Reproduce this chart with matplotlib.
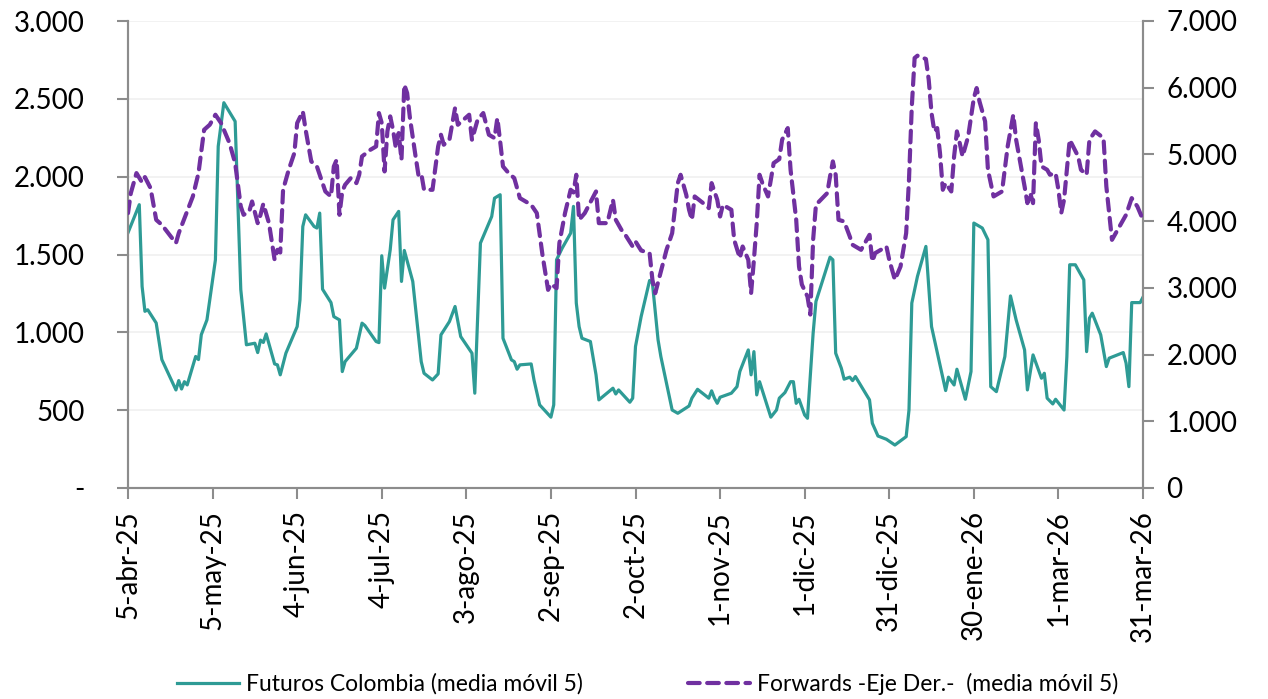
import numpy as np
import pandas as pd
import matplotlib
matplotlib.use("Agg")
import matplotlib.pyplot as plt
from matplotlib.ticker import FuncFormatter

plt.rcParams['font.family'] = ['Lato', 'DejaVu Sans']

start = pd.Timestamp('2025-04-05')

# Futuros Colombia (media móvil 5) - left axis; day offsets from start
fut_days = [0, 4, 5, 6, 7, 10, 12, 17, 18, 19, 20, 21, 24, 25, 26, 28, 31, 32, 34, 38,
            40, 42, 45, 46, 47, 48, 49, 52, 53, 54, 56, 60, 61, 62, 63, 66, 67, 68, 69, 72,
            73, 75, 76, 77, 81, 83, 84, 88, 89, 90, 91, 93, 94, 96, 97, 98, 101, 104, 105, 108,
            110, 111, 114, 116, 118, 122, 123, 125, 129, 130, 132, 133, 136, 137, 138, 139, 143, 144, 146, 150,
            151, 152, 154, 157, 158, 159, 160, 161, 164, 166, 167, 172, 173, 174, 178, 179, 180, 182, 185, 186,
            188, 189, 193, 195, 199, 200, 202, 206, 207, 208, 209, 210, 214, 216, 217, 220, 221, 222, 223, 224,
            228, 230, 231, 233, 235, 236, 237, 238, 240, 241, 243, 244, 249, 250, 251, 253, 254, 256, 257, 258,
            263, 264, 266, 269, 272, 276, 277, 278, 280, 283, 285, 290, 291, 293, 294, 297, 299, 300, 303, 305,
            306, 308, 311, 313, 315, 318, 319, 321, 324, 325, 326, 328, 329, 332, 333, 334, 336, 339, 340, 341,
            342, 345, 347, 348, 353, 354, 355, 356, 359, 360]
fut_vals = [1640, 1820, 1295, 1135, 1145, 1060, 825, 630, 690, 636, 683, 662, 845, 825, 985, 1080, 1465, 2195, 2475, 2355,
            1275, 920, 930, 870, 950, 935, 990, 797, 791, 727, 866, 1037, 1209, 1680, 1755, 1680, 1670, 1766, 1277, 1191,
            1101, 1080, 748, 812, 898, 1059, 1044, 941, 934, 1492, 1284, 1530, 1723, 1777, 1327, 1526, 1327, 812, 737, 694,
            733, 984, 1069, 1166, 973, 866, 609, 1573, 1744, 1862, 1884, 962, 823, 812, 763, 791, 797, 694, 534, 455,
            534, 1466, 1541, 1637, 1809, 1188, 1037, 962, 941, 727, 566, 641, 604, 630, 551, 577, 909, 1101, 1333, 1316,
            952, 844, 501, 480, 527, 577, 634, 577, 624, 577, 544, 583, 609, 651, 748, 887, 727, 876, 598, 683,
            455, 501, 577, 613, 683, 683, 544, 570, 469, 448, 994, 1198, 1483, 1466, 866, 770, 699, 712, 690, 716,
            566, 416, 334, 313, 276, 330, 501, 1188, 1359, 1552, 1037, 626, 712, 662, 763, 570, 748, 1702, 1670, 1595,
            651, 619, 844, 1234, 1080, 887, 630, 855, 705, 737, 577, 540, 570, 501, 844, 1434, 1434, 1337, 876, 1091,
            1123, 984, 780, 834, 870, 802, 651, 1191, 1191, 1226]

# Forwards -Eje Der.- (media móvil 5) - right axis
fwd_days = [0, 1, 3, 5, 6, 8, 10, 12, 17, 18, 23, 25, 27, 29, 31, 33, 36, 38, 40, 41,
            43, 44, 46, 47, 48, 50, 52, 53, 54, 55, 57, 59, 60, 62, 63, 65, 67, 69, 70, 72,
            73, 74, 75, 76, 77, 79, 81, 82, 83, 86, 88, 89, 90, 91, 92, 93, 94, 95, 96, 97,
            98, 99, 100, 102, 103, 104, 105, 108, 110, 111, 112, 114, 116, 117, 121, 122, 124, 126, 128, 130,
            131, 132, 133, 135, 137, 139, 143, 145, 147, 149, 150, 152, 153, 155, 157, 158, 159, 160, 162, 166,
            167, 170, 172, 173, 175, 176, 179, 180, 182, 185, 186, 187, 189, 191, 193, 195, 196, 198, 199, 200,
            201, 204, 206, 207, 209, 210, 211, 214, 215, 217, 218, 220, 221, 222, 223, 224, 225, 227, 229, 231,
            232, 234, 235, 237, 238, 239, 241, 242, 243, 244, 248, 249, 250, 251, 252, 254, 256, 257, 260, 262,
            263, 264, 265, 269, 270, 272, 274, 276, 277, 278, 279, 280, 283, 284, 285, 286, 287, 288, 289, 290,
            292, 293, 294, 295, 296, 298, 300, 301, 302, 304, 305, 307, 310, 312, 314, 315, 318, 319, 320, 321,
            322, 323, 324, 326, 327, 329, 330, 331, 332, 334, 337, 338, 340, 341, 343, 346, 347, 349, 351, 354,
            356, 358, 360]
fwd_vals = [4120, 4420, 4720, 4580, 4660, 4495, 4020, 3945, 3670, 3820, 4370, 4720, 5370, 5445, 5595, 5470, 5170, 4870, 4220, 4095,
            4145, 4295, 3970, 4095, 4260, 3970, 3420, 3570, 3530, 4470, 4770, 5020, 5470, 5645, 5370, 4895, 4820, 4570, 4445, 4370,
            4820, 4920, 4095, 4445, 4545, 4645, 4570, 4695, 4970, 5070, 5120, 5620, 5470, 4745, 5345, 5570, 5370, 5095, 5320, 4920,
            6045, 5920, 5545, 4970, 4695, 4720, 4470, 4470, 5120, 5295, 5145, 5220, 5695, 5445, 5595, 5220, 5520, 5620, 5295, 5245,
            5545, 5195, 4820, 4720, 4645, 4345, 4245, 4120, 3495, 2970, 3060, 2995, 3670, 4120, 4470, 4430, 4695, 4020, 4120, 4445,
            3970, 3970, 4320, 4020, 3870, 3820, 3620, 3695, 3560, 3520, 3120, 2920, 3245, 3570, 3820, 4570, 4695, 4395, 4170, 4020,
            4370, 4270, 4195, 4570, 4320, 4070, 4245, 4170, 3720, 3445, 3620, 3420, 2920, 3420, 3970, 4695, 4570, 4370, 4870, 4930,
            5220, 5395, 4770, 4020, 3320, 3050, 2870, 2600, 3720, 4245, 4420, 4670, 4895, 4695, 4020, 3995, 3770, 3645, 3570, 3720,
            3795, 3395, 3520, 3620, 3420, 3120, 3320, 3820, 4620, 5720, 6445, 6480, 6430, 6120, 5620, 5345, 5395, 5020, 4470, 4570,
            4445, 4970, 5345, 5170, 4970, 5270, 5845, 5995, 5795, 5495, 4770, 4370, 4445, 5120, 5595, 5220, 4520, 4270, 4420, 4270,
            5470, 5220, 4820, 4770, 4695, 4720, 4470, 4120, 4320, 5220, 4970, 4770, 4695, 5220, 5345, 5245, 4520, 3720, 3870, 4095,
            4345, 4220, 4020]

tick_labels = ['5-abr-25', '5-may-25', '4-jun-25', '4-jul-25', '3-ago-25', '2-sep-25', '2-oct-25',
               '1-nov-25', '1-dic-25', '31-dic-25', '30-ene-26', '1-mar-26', '31-mar-26']
tick_days = [0, 30, 60, 90, 120, 150, 180, 210, 240, 270, 300, 330, 360]

fut_dates = start + pd.to_timedelta(fut_days, unit='D')
fwd_dates = start + pd.to_timedelta(fwd_days, unit='D')
tick_dates = start + pd.to_timedelta(tick_days, unit='D')

teal = '#2E9B95'
purple = '#7030A0'
spine_c = '#8C8C8C'

fig = plt.figure(figsize=(12.68, 6.99), dpi=100)
ax = fig.add_axes([128/1268, 1 - 488/699, (1143-128)/1268, (488-21)/699])
ax2 = ax.twinx()

l1, = ax.plot(fut_dates, fut_vals, color=teal, lw=2.3, label='Futuros Colombia (media móvil 5)', zorder=3)
l2, = ax2.plot(fwd_dates, fwd_vals, color=purple, lw=3.0, linestyle=(0, (2.8, 1.8)),
               dash_capstyle='round', label='Forwards -Eje Der.-  (media móvil 5)', zorder=3)

ax.set_xlim(start, start + pd.Timedelta(days=360))
ax.set_ylim(0, 3000)
ax2.set_ylim(0, 7000)
ax.set_yticks(np.arange(0, 3001, 500))
ax2.set_yticks(np.arange(0, 7001, 1000))

def thousands(v, pos=None):
    return f"{int(round(v)):,}".replace(',', '.')

ax.yaxis.set_major_formatter(FuncFormatter(lambda v, p: '-' if v == 0 else thousands(v)))
ax2.yaxis.set_major_formatter(FuncFormatter(lambda v, p: thousands(v)))

ax.set_xticks(tick_dates)
ax.set_xticklabels(tick_labels, rotation=90, fontsize=20, ha='center', va='top')

ax.grid(axis='y', color='#F0F0F0', lw=1.2, zorder=0)
ax.set_axisbelow(True)

for a in (ax, ax2):
    for s in a.spines.values():
        s.set_color(spine_c)
        s.set_linewidth(1.5)
    a.spines['top'].set_visible(False)
ax.tick_params(axis='y', length=8, width=1.5, color=spine_c, labelsize=20, pad=23)
ax2.tick_params(axis='y', length=8, width=1.5, color=spine_c, labelsize=20, pad=9)
ax.tick_params(axis='x', length=8, width=1.5, color=spine_c, labelsize=20, pad=8)

fig.legend(handles=[l1, l2], loc='center', bbox_to_anchor=(0.511, 0.022), ncol=2,
           frameon=False, fontsize=16.5, handlelength=2.7, columnspacing=4.6, handletextpad=0.3)

fig.savefig('out.png', dpi=100)
